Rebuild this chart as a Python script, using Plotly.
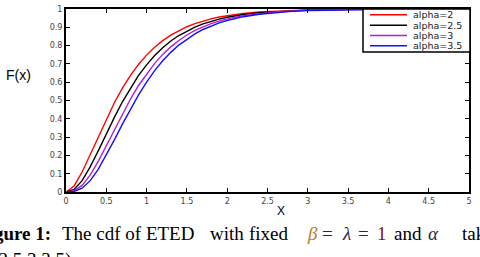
import plotly.graph_objects as go

# ---- data ----
x_vals = [0, 0.1, 0.2, 0.3, 0.4, 0.5, 0.6, 0.7, 0.8, 0.9, 1.0, 1.1, 1.2, 1.3, 1.4,
          1.5, 1.6, 1.7, 1.8, 1.9, 2.0, 2.2, 2.4, 2.6, 2.8, 3.0, 3.5, 4.0, 4.5, 5.0]
alpha_2 = [0, 0.033, 0.109, 0.204, 0.303, 0.400, 0.488, 0.568, 0.637, 0.697, 0.748,
           0.791, 0.827, 0.857, 0.882, 0.903, 0.920, 0.934, 0.946, 0.956, 0.964,
           0.976, 0.984, 0.989, 0.993, 0.995, 0.998, 0.999, 1.0, 1.0]
alpha_2_5 = [0, 0.014, 0.062, 0.137, 0.225, 0.318, 0.408, 0.493, 0.569, 0.637, 0.695,
             0.746, 0.788, 0.825, 0.855, 0.880, 0.901, 0.919, 0.933, 0.945, 0.955,
             0.970, 0.980, 0.986, 0.991, 0.994, 0.998, 0.999, 1.0, 1.0]
alpha_3 = [0, 0.006, 0.036, 0.092, 0.167, 0.253, 0.341, 0.428, 0.508, 0.582, 0.646,
           0.703, 0.752, 0.793, 0.828, 0.858, 0.883, 0.903, 0.920, 0.934, 0.946,
           0.964, 0.976, 0.984, 0.989, 0.993, 0.997, 0.999, 1.0, 1.0]
alpha_3_5 = [0, 0.003, 0.021, 0.062, 0.124, 0.201, 0.285, 0.371, 0.454, 0.531, 0.601,
             0.663, 0.717, 0.763, 0.803, 0.836, 0.864, 0.888, 0.908, 0.924, 0.937,
             0.958, 0.971, 0.981, 0.987, 0.991, 0.997, 0.999, 1.0, 1.0]

series_names = ["alpha=2", "alpha=2.5", "alpha=3", "alpha=3.5"]
series_vals = [alpha_2, alpha_2_5, alpha_3, alpha_3_5]
series_colors = ["#ff0000", "#000000", "#b81ec8", "#1010ff"]

x_ticks = [0, 0.5, 1, 1.5, 2, 2.5, 3, 3.5, 4, 4.5, 5]
y_ticks = [0, 0.1, 0.2, 0.3, 0.4, 0.5, 0.6, 0.7, 0.8, 0.9, 1]

W, H = 480, 257
L, R, T, B = 66, 11, 5, 65
PW, PH = W - L - R, H - T - B


def px(x):
    return (x - L) / PW


def py(y):
    return (H - B - y) / PH


fig = go.Figure()
for name, vals, col in zip(series_names, series_vals, series_colors):
    fig.add_trace(go.Scatter(x=x_vals, y=vals, mode="lines", name=name,
                             line=dict(color=col, width=1.4), showlegend=False))

axis_common = dict(showgrid=False, zeroline=False, showline=True, linecolor="black",
                   linewidth=2, mirror="ticks", ticks="inside", ticklen=4,
                   tickwidth=1, tickcolor="black",
                   tickfont=dict(family="DejaVu Sans", size=8, color="#444"))

fig.update_layout(
    width=W, height=H,
    margin=dict(l=L, r=R, t=T, b=B),
    paper_bgcolor="white", plot_bgcolor="white",
    xaxis=dict(range=[0, 5], tickvals=x_ticks, **axis_common),
    yaxis=dict(range=[0, 1], tickvals=y_ticks, **axis_common),
)

shapes = []
annotations = []
# custom legend box
shapes.append(dict(type="rect", xref="paper", yref="paper",
                   x0=px(363), x1=px(470), y0=py(49), y1=py(5),
                   line=dict(color="black", width=1.5), fillcolor="white"))
leg_y = [11, 21.5, 32, 42.5]
for name, col, yy in zip(series_names, series_colors, leg_y):
    shapes.append(dict(type="line", xref="paper", yref="paper",
                       x0=px(370), x1=px(407), y0=py(yy), y1=py(yy),
                       line=dict(color=col, width=1.5)))
    annotations.append(dict(text=name, xref="paper", yref="paper", x=px(411), y=py(yy),
                            xanchor="left", yanchor="middle", showarrow=False,
                            font=dict(family="DejaVu Sans", size=9.5, color="#222")))

# axis titles
annotations.append(dict(text="F(x)", xref="paper", yref="paper", x=px(18.5), y=py(72),
                        xanchor="center", yanchor="middle", showarrow=False,
                        font=dict(family="Liberation Sans", size=14, color="black")))
annotations.append(dict(text="X", xref="paper", yref="paper", x=px(280.5), y=py(211),
                        xanchor="center", yanchor="middle", showarrow=False,
                        font=dict(family="Liberation Sans", size=12, color="black")))

# caption (cropped, as in the reference)
serif = "Liberation Serif"
cap_y = py(234)
navy = "#1c2a50"
annotations.append(dict(text="<b>Figure 1:</b>", xref="paper", yref="paper", x=px(53), y=cap_y,
                        xanchor="right", yanchor="middle", showarrow=False,
                        font=dict(family=serif, size=19, color="black")))
caption_parts = [("The cdf of ETED", 60, "black"), ("with", 208, "black"),
                 ("fixed", 247, "black"),
                 ("<i>β</i>", 305, "#c07a1a"), ("=", 320, navy), ("<i>λ</i>", 340, navy),
                 ("=", 356, navy), ("1", 375, "#7a1010"),
                 ("and", 392, "black"), ("<i>α</i>", 426, navy), ("tak", 460, "black")]
for txt, xl, col in caption_parts:
    annotations.append(dict(text=txt, xref="paper", yref="paper", x=px(xl), y=cap_y,
                            xanchor="left", yanchor="middle", showarrow=False,
                            font=dict(family=serif, size=19, color=col)))
annotations.append(dict(text="(2,2.5,3,3.5)", xref="paper", yref="paper", x=px(73), y=py(261),
                        xanchor="right", yanchor="middle", showarrow=False,
                        font=dict(family=serif, size=19, color="black")))

fig.update_layout(shapes=shapes, annotations=annotations)
fig.write_html("out.html")
